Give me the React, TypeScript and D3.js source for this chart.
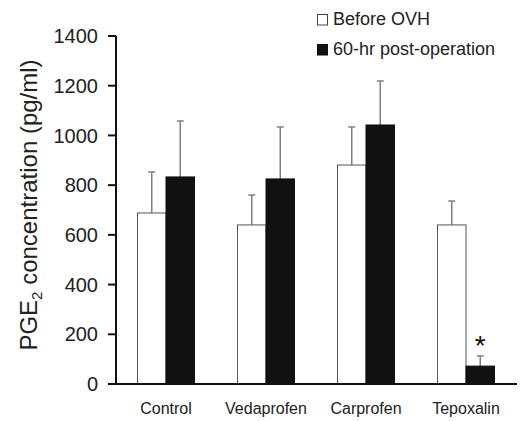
import React from "react";
import * as d3 from "d3";

const categories = ["Control", "Vedaprofen", "Carprofen", "Tepoxalin"];
const seriesNames = ["Before OVH", "60-hr post-operation"];
const beforeValues = [688, 640, 881, 640];
const beforeErrors = [165, 120, 153, 96];
const postValues = [833, 825, 1042, 72];
const postErrors = [225, 209, 177, 41];
const yTicks = [0, 200, 400, 600, 800, 1000, 1200, 1400];
const significant = [false, false, false, true];

const W = 520;
const H = 421;
const left = 116;
const right = 516;
const top = 36;
const bottom = 384;

export default function App() {
  const x = d3
    .scaleBand<string>()
    .domain(categories)
    .range([left, right])
    .paddingInner(0.43)
    .paddingOuter(0.215);
  const xs = d3.scaleBand<string>().domain(seriesNames).range([0, x.bandwidth()]);
  const y = d3.scaleLinear().domain([0, 1400]).range([bottom, top]);

  const series = [
    { name: seriesNames[0], values: beforeValues, errors: beforeErrors, fill: "#ffffff", stroke: "#555" },
    { name: seriesNames[1], values: postValues, errors: postErrors, fill: "#111111", stroke: "#111" },
  ];

  const font = "Liberation Sans, Arial, Helvetica, sans-serif";

  return (
    <svg
      width={W}
      height={H}
      style={{ position: "absolute", left: 0, top: 0, background: "#fff" }}
      fontFamily={font}
    >
      {/* bars */}
      {series.map((s) =>
        categories.map((c, i) => {
          const bx = (x(c) as number) + (xs(s.name) as number);
          const bw = xs.bandwidth();
          const cx = bx + bw / 2;
          const yTop = y(s.values[i]);
          const yErr = y(s.values[i] + s.errors[i]);
          return (
            <g key={s.name + c}>
              <line x1={cx} x2={cx} y1={yTop} y2={yErr} stroke="#808080" strokeWidth={1.5} />
              <line x1={cx - 3.5} x2={cx + 3.5} y1={yErr} y2={yErr} stroke="#808080" strokeWidth={1.5} />
              <rect
                x={bx}
                y={yTop}
                width={bw}
                height={bottom - yTop}
                fill={s.fill}
                stroke={s.stroke}
                strokeWidth={1}
              />
            </g>
          );
        })
      )}
      {/* significance marks */}
      {categories.map((c, i) =>
        significant[i] ? (
          <text
            key={"sig" + c}
            x={(x(c) as number) + (xs(seriesNames[1]) as number) + xs.bandwidth() / 2}
            y={y(postValues[i] + postErrors[i]) - 1}
            fontSize={28}
            textAnchor="middle"
            fill="#111"
          >
            *
          </text>
        ) : null
      )}
      {/* y axis */}
      <line x1={left} x2={left} y1={top} y2={bottom} stroke="#111" strokeWidth={2} />
      {yTicks.map((t) => (
        <g key={t}>
          <line x1={left - 8} x2={left} y1={y(t)} y2={y(t)} stroke="#111" strokeWidth={2} />
          <text x={left - 18} y={y(t)} dy="0.36em" textAnchor="end" fontSize={20} fill="#222">
            {t}
          </text>
        </g>
      ))}
      {/* x axis */}
      <line x1={left - 8} x2={right + 1} y1={bottom} y2={bottom} stroke="#111" strokeWidth={2} />
      {categories.map((c) => (
        <text
          key={c}
          x={(x(c) as number) + x.bandwidth() / 2}
          y={414}
          textAnchor="middle"
          fontSize={16}
          fill="#222"
        >
          {c}
        </text>
      ))}
      {/* y label */}
      <text
        transform={`translate(37, 205) rotate(-90)`}
        textAnchor="middle"
        fontSize={24}
        fill="#222"
      >
        PGE
        <tspan fontSize={15} dy={5}>2</tspan>
        <tspan dy={-5}> concentration (pg/ml)</tspan>
      </text>
      {/* legend */}
      {series.map((s, i) => (
        <g key={"leg" + s.name} transform={`translate(317, ${14 + i * 30})`}>
          <rect x={0.5} y={0.5} width={10} height={10.5} fill={s.fill} stroke={i === 0 ? "#444" : "#111"} strokeWidth={1} />
          <text x={16} y={11} fontSize={18} fill="#222">
            {s.name}
          </text>
        </g>
      ))}
    </svg>
  );
}
